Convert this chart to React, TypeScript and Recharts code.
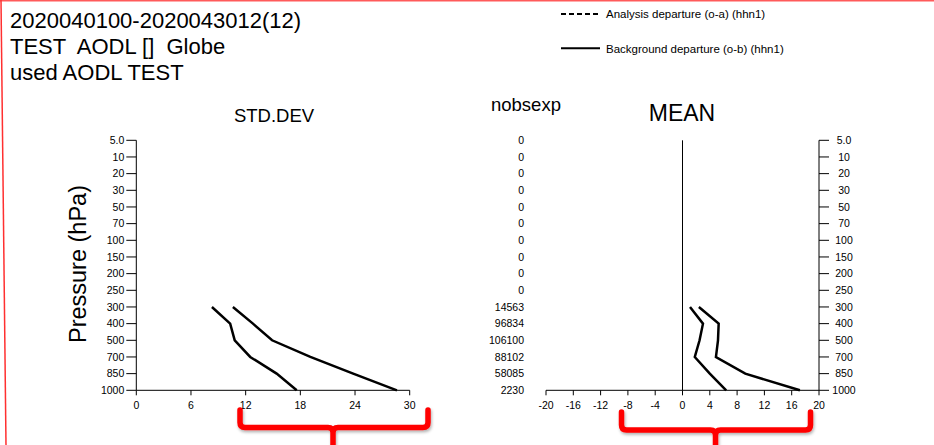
import { LineChart, Line, XAxis, YAxis, ReferenceLine } from 'recharts';

// pressure levels, top of the profile first
const levels = ['5.0', '10', '20', '30', '50', '70', '100', '150', '200', '250', '300', '400', '500', '700', '850', '1000'];
const nobsexp = [0, 0, 0, 0, 0, 0, 0, 0, 0, 0, 14563, 96834, 106100, 88102, 58085, 2230];

// levels that carry data
const profileLevels = ['300', '400', '500', '700', '850', '1000'];
const stdOa = [8.3, 10.3, 10.8, 12.5, 15.4, 17.6];
const stdOb = [10.6, 12.8, 14.9, 19.1, 23.8, 28.6];
const meanOa = [1.1, 3.0, 2.5, 1.8, 4.0, 6.4];
const meanOb = [2.4, 5.3, 5.2, 4.9, 9.2, 17.2];

const stdTicks = [0, 6, 12, 18, 24, 30];
const meanTicks = [-20, -16, -12, -8, -4, 0, 4, 8, 12, 16, 20];
const levelTicks = levels.map((_, i) => i);

const FONT = '"Liberation Sans", Arial, Helvetica, sans-serif';
const W = 934;
const H = 445;

const buildRows = (oa: number[], ob: number[]) =>
  profileLevels.map((lev, i) => ({ pos: levels.indexOf(lev), oa: oa[i], ob: ob[i] }));

const stdRows = buildRows(stdOa, stdOb);
const meanRows = buildRows(meanOa, meanOb);

const tickStyle = { fontSize: 10.5, fill: '#000', fontFamily: FONT };
const axisLine = { stroke: '#000', strokeWidth: 1 };

// in vertical layout the number y axis already runs top-down, so index 0 (5.0 hPa) lands on top
function StdDevPanel() {
  return (
    <LineChart
      width={W}
      height={H}
      data={stdRows}
      layout="vertical"
      margin={{ top: 140.3, right: 524.3, bottom: 24.7, left: 76.3 }}
      style={{ position: 'absolute', left: 0, top: 0 }}
    >
      <XAxis
        type="number"
        domain={[0, 30]}
        ticks={stdTicks}
        interval={0}
        height={30}
        tickSize={5}
        tickMargin={6}
        axisLine={axisLine}
        tickLine={axisLine}
        tick={tickStyle}
      />
      <YAxis
        type="number"
        dataKey="pos"
        domain={[0, 15]}
        ticks={levelTicks}
        interval={0}
        width={60}
        tickSize={10}
        tickMargin={2}
        tickFormatter={(i: number) => levels[i]}
        axisLine={axisLine}
        tickLine={axisLine}
        tick={tickStyle}
      />
      <Line dataKey="oa" stroke="#000" strokeWidth={2.5} dot={false} isAnimationActive={false} />
      <Line dataKey="ob" stroke="#000" strokeWidth={2.5} dot={false} isAnimationActive={false} />
    </LineChart>
  );
}

function MeanPanel() {
  return (
    <LineChart
      width={W}
      height={H}
      data={meanRows}
      layout="vertical"
      margin={{ top: 140.3, right: 55, bottom: 24.7, left: 486 }}
      style={{ position: 'absolute', left: 0, top: 0 }}
    >
      <XAxis
        type="number"
        domain={[-20, 20]}
        ticks={meanTicks}
        interval={0}
        height={30}
        tickSize={5}
        tickMargin={6}
        axisLine={axisLine}
        tickLine={axisLine}
        tick={tickStyle}
      />
      {/* observation counts sit where a left axis would be */}
      <YAxis
        yAxisId="count"
        type="number"
        dataKey="pos"
        domain={[0, 15]}
        ticks={levelTicks}
        interval={0}
        width={60}
        tickSize={0}
        tickMargin={22}
        tickFormatter={(i: number) => String(nobsexp[i])}
        axisLine={false}
        tickLine={false}
        tick={tickStyle}
      />
      <YAxis
        yAxisId="lev"
        orientation="right"
        type="number"
        dataKey="pos"
        domain={[0, 15]}
        ticks={levelTicks}
        interval={0}
        width={60}
        tickSize={10}
        tickMargin={15}
        tickFormatter={(i: number) => levels[i]}
        axisLine={axisLine}
        tickLine={axisLine}
        tick={{ ...tickStyle, textAnchor: 'middle' }}
      />
      <ReferenceLine x={0} yAxisId="lev" stroke="#000" strokeWidth={1} />
      <Line yAxisId="lev" dataKey="oa" stroke="#000" strokeWidth={2.5} dot={false} isAnimationActive={false} />
      <Line yAxisId="lev" dataKey="ob" stroke="#000" strokeWidth={2.5} dot={false} isAnimationActive={false} />
    </LineChart>
  );
}

function Overlay() {
  const brace = (l: number, r: number, c: number, top: number, bar: number) =>
    `M${l},${top} L${l},${bar - 5} Q${l},${bar} ${l + 5},${bar} L${c - 5},${bar} Q${c},${bar} ${c},${bar + 5} L${c},${H + 2} ` +
    `M${c},${bar + 5} Q${c},${bar} ${c + 5},${bar} L${r - 5},${bar} Q${r},${bar} ${r},${bar - 5} L${r},${top}`;
  return (
    <svg width={W} height={H} style={{ position: 'absolute', left: 0, top: 0, pointerEvents: 'none' }} fontFamily={FONT}>
      <defs>
        <filter id="shade" x="-10%" y="-20%" width="120%" height="160%">
          <feDropShadow dx="1" dy="2" stdDeviation="1.5" floodColor="#000" floodOpacity="0.3" />
        </filter>
      </defs>
      <line x1={0} y1={0.75} x2={W} y2={0.75} stroke="#ff5a5a" strokeWidth={1.5} />
      <line x1={1} y1={0} x2={6} y2={H} stroke="#ff3030" strokeWidth={1.5} />

      <text x={10} y={28} fontSize={22} fill="#000" style={{ whiteSpace: 'pre' }}>2020040100-2020043012(12)</text>
      <text x={10} y={54} fontSize={22} fill="#000" style={{ whiteSpace: 'pre' }}>TEST  AODL []  Globe</text>
      <text x={10} y={80} fontSize={22} fill="#000" style={{ whiteSpace: 'pre' }}>used AODL TEST</text>

      <line x1={561} y1={14} x2={600} y2={14} stroke="#000" strokeWidth={2} strokeDasharray="5 3" />
      <text x={606} y={18.3} fontSize={11.5} fill="#000">Analysis departure (o-a) (hhn1)</text>
      <line x1={561} y1={48.3} x2={600} y2={48.3} stroke="#000" strokeWidth={2} />
      <text x={606} y={52.5} fontSize={11.5} fill="#000">Background departure (o-b) (hhn1)</text>

      <text x={274} y={122} fontSize={18.5} textAnchor="middle" fill="#000">STD.DEV</text>
      <text x={682} y={121} fontSize={23} textAnchor="middle" fill="#000">MEAN</text>
      <text x={491} y={111} fontSize={18.5} fill="#000">nobsexp</text>
      <text x={86} y={264} fontSize={23.5} textAnchor="middle" fill="#000" transform="rotate(-90 86 264)">Pressure (hPa)</text>

      <g filter="url(#shade)" fill="none" stroke="#ff0000" strokeWidth={5.5} strokeLinecap="round" strokeLinejoin="round">
        <path d={brace(240, 428, 333, 410, 427.5)} />
        <path d={brace(621.5, 810.5, 715.5, 412, 430)} />
      </g>
    </svg>
  );
}

export default function App() {
  return (
    <div style={{ position: 'absolute', left: 0, top: 0, width: W, height: H, background: '#fff', overflow: 'hidden', fontFamily: FONT }}>
      <StdDevPanel />
      <MeanPanel />
      <Overlay />
    </div>
  );
}
